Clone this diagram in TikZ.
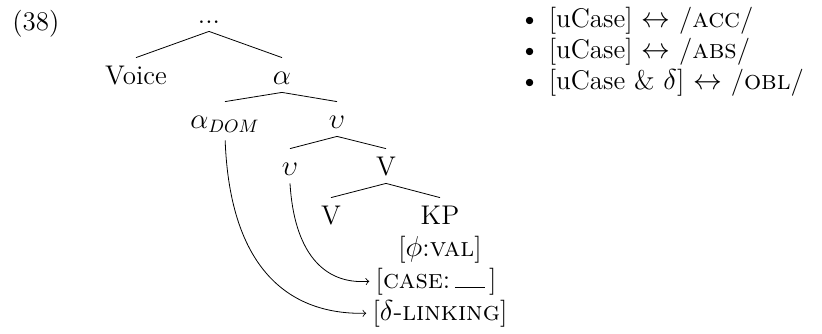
\documentclass[tikz,border=0pt]{standalone}
\begin{document}
\begin{tikzpicture}[x=0.5pt, y=-0.5pt, every node/.style={font=\fontsize{13.5}{16}\selectfont},
  cat/.style={anchor=base,inner xsep=1pt,inner ysep=2pt,text height=11pt,text depth=2pt},
  feat/.style={anchor=base,inner sep=1pt},
  item/.style={anchor=base west,inner sep=0pt,text height=9.5pt,text depth=3pt}]
\useasboundingbox (0,0) rectangle (822,333);
\node[item] (exnum) at (12,30) {(38)};
% tree
\node[cat] (top) at (209,23) {...};
\node[cat] (voice) at (136,84) {Voice};
\node[cat] (alpha) at (282,84) {$\alpha$};
\node[cat] (adom) at (225,128) {$\alpha_{DOM}$};
\node[cat] (vbar) at (337,128) {$\upsilon$};
\node[cat] (vhead) at (290,175) {$\upsilon$};
\node[cat] (vp) at (386,175) {V};
\node[cat] (verb) at (331,224) {V};
\node[cat] (kp) at (440,224) {KP};
\node[feat] (phi) at (440,256) {[$\phi$:\textsc{val}]};
\node[feat] (case) at (436,288) {[\textsc{case}:\,\rule{1.1em}{0.5pt}\,]};
\node[feat] (link) at (440,320) {[$\delta$-\textsc{linking}]};
\draw (top.south) -- (voice.north);
\draw (top.south) -- (alpha.north);
\draw (alpha.south) -- (adom.north);
\draw (alpha.south) -- (vbar.north);
\draw (vbar.south) -- (vhead.north);
\draw (vbar.south) -- (vp.north);
\draw (vp.south) -- (verb.north);
\draw (vp.south) -- (kp.north);
\draw[->,shorten <=2pt] (adom.south) .. controls (230,270) and (290,315) .. ([xshift=-2pt]link.west);
\draw[->] (vhead.south) .. controls (294,250) and (322,285) .. ([xshift=-2pt]case.west);
% exponents
\node[item] (acc) at (519,27) {\textbullet\ [uCase] $\leftrightarrow$ /\textsc{acc}/};
\node[item] (abs) at (519,58) {\textbullet\ [uCase] $\leftrightarrow$ /\textsc{abs}/};
\node[item] (obl) at (519,89) {\textbullet\ [uCase \& $\delta$] $\leftrightarrow$ /\textsc{obl}/};
\end{tikzpicture}
\end{document}
